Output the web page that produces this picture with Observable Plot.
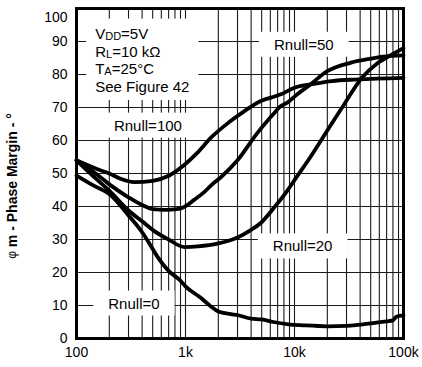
<!DOCTYPE html>
<html>
<head>
<meta charset="utf-8">
<script src="https://cdn.jsdelivr.net/npm/d3@7"></script>
<script src="https://cdn.jsdelivr.net/npm/@observablehq/plot@0.6"></script>
<style>
  html, body { margin: 0; padding: 0; background: #fff; }
  #chart { width: 422px; height: 367px; }
</style>
</head>
<body>
<div id="chart"></div>
<script>
// ---- Data (frequency in Hz, phase margin in degrees) ----
const rnull100 = [[100,54],[150,51.5],[200,50],[250,48.5],[340,47.4],[500,47.8],[710,49.4],[960,52.4],[1260,56],[1730,61],[2500,65.5],[3500,69],[4900,72],[6100,73],[7500,74],[10000,76],[16000,77.3],[22000,78],[38000,78.5],[100000,79]];
const rnull50 = [[100,54],[150,50],[200,46.7],[300,42.8],[410,40.3],[500,39.2],[650,39],[830,39.2],[960,39.8],[1200,42],[1500,44.5],[1730,46.5],[2100,48.8],[3000,54],[4500,62],[6400,68],[7400,70.3],[8600,71.5],[10600,74],[14000,77],[20000,81],[33000,83.6],[50000,84.8],[65000,85.4],[100000,85.8]];
const rnull20 = [[100,54],[150,48.5],[200,44.8],[300,38.8],[400,35.5],[510,32.7],[700,30],[980,27.7],[1300,27.9],[2000,28.8],[3000,30.6],[3900,32.7],[4900,35],[6400,39.4],[8600,44.8],[10000,48],[14000,55],[20000,63],[28600,71],[41000,78.8],[58000,83.5],[78000,86],[100000,88]];
const rnull0 = [[100,49.4],[150,46],[200,43.8],[300,37.3],[400,32.2],[510,26.7],[560,24.5],[700,20.5],[900,17.5],[1000,15.8],[1370,12.4],[1700,9.8],[2000,8.2],[2600,7.4],[3000,7.1],[4000,6],[5000,5.8],[6400,5],[8800,4.3],[12000,4],[20000,3.7],[30000,3.8],[38000,4.1],[50000,4.6],[70000,5.2],[80000,5.5],[86000,6.6],[100000,7]];

const seriesNames = ["Rnull=100", "Rnull=50", "Rnull=20", "Rnull=0"];
const seriesPoints = [rnull100, rnull50, rnull20, rnull0];

// label anchors (freq, phase margin)
const labelFreq = [457, 12300, 12000, 340];
const labelPm = [64.5, 89, 27.9, 10.6];

const conditionLines = [["V", "DD", "=5V"], ["R", "L", "=10 k\u03A9"], ["T", "A", "=25\u00B0C"], ["See Figure 42", "", ""]];
const conditionFreq = 150;
const conditionPm = 92.4;

const xTickValues = [100, 1000, 10000, 100000];
const xTickLabels = ["100", "1k", "10k", "100k"];
const yTickValues = [0, 10, 20, 30, 40, 50, 60, 70, 80, 90, 100];
const gridMultipliers = [1, 2, 3, 4, 5, 6, 7, 8, 9];
const gridDecades = [100, 1000, 10000];
const yAxisLabel = ["\u03C6", " m - Phase Margin - \u00B0"];

// ---- Build tables ----
const table = seriesNames.flatMap((name, i) => seriesPoints[i].map(([f, pm]) => ({series: name, f, pm})));
const gridFreqs = gridDecades.flatMap(d => gridMultipliers.map(m => m * d)).concat([100000]);

const FONT = "'Liberation Sans', Arial, Helvetica, sans-serif";

const plot = Plot.plot({
  width: 422,
  height: 367,
  marginLeft: 76,
  marginRight: 19,
  marginTop: 8,
  marginBottom: 29,
  style: {fontFamily: FONT, fontSize: "14px", color: "#000", background: "#fff"},
  x: {type: "log", domain: [100, 100000], ticks: xTickValues, tickFormat: d => xTickLabels[xTickValues.indexOf(d)], tickSize: 0, tickPadding: 9, label: null},
  y: {domain: [0, 100], ticks: yTickValues, tickSize: 0, tickPadding: 9, label: null},
  marks: [
    Plot.ruleX(gridFreqs, {stroke: "#1a1a1a", strokeWidth: 1.1, strokeOpacity: 1}),
    Plot.ruleY(yTickValues, {stroke: "#1a1a1a", strokeWidth: 1.1, strokeOpacity: 1}),
    Plot.line(table, {x: "f", y: "pm", z: "series", stroke: "#000", strokeWidth: 3.8, curve: "monotone-x"}),
    Plot.frame({stroke: "#000", strokeWidth: 3})
  ]
});

document.getElementById("chart").appendChild(plot);

const svg = d3.select(plot);
const sx = plot.scale("x"), sy = plot.scale("y");

// nudge the top y tick label down slightly, as in the reference
svg.selectAll("text").filter(function () {
  return this.textContent === "100" && this.closest("g[aria-label='y-axis tick label']");
}).attr("dy", "0.62em");

function boxed(g, padX, padY) {
  const b = g.node().getBBox();
  g.insert("rect", ":first-child")
    .attr("x", b.x - padX).attr("y", b.y - padY)
    .attr("width", b.width + 2 * padX).attr("height", b.height + 2 * padY)
    .attr("fill", "#fff");
}

// Curve labels
seriesNames.forEach((name, i) => {
  const g = svg.append("g");
  g.append("text")
    .attr("x", sx.apply(labelFreq[i]))
    .attr("y", sy.apply(labelPm[i]))
    .attr("text-anchor", "middle")
    .attr("dominant-baseline", "central")
    .attr("font-family", FONT)
    .attr("font-size", 15)
    .attr("fill", "#000")
    .text(name);
  boxed(g, 15, 4);
});

// Conditions block
{
  const g = svg.append("g");
  const x0 = sx.apply(conditionFreq);
  const y0 = sy.apply(conditionPm);
  conditionLines.forEach((parts, i) => {
    const t = g.append("text")
      .attr("x", x0).attr("y", y0 + i * 17.5)
      .attr("text-anchor", "start")
      .attr("dominant-baseline", "central")
      .attr("font-family", FONT).attr("font-size", 15).attr("fill", "#000");
    t.append("tspan").text(parts[0]);
    if (parts[1]) t.append("tspan").attr("font-size", 11).attr("baseline-shift", "-3").text(parts[1]);
    if (parts[2]) t.append("tspan").text(parts[2]);
  });
  boxed(g, 9, 6);
}

// Y axis title
{
  const cx = 12, cy = 186;
  const t = svg.append("text")
    .attr("transform", `translate(${cx},${cy}) rotate(-90)`)
    .attr("text-anchor", "middle")
    .attr("dominant-baseline", "central")
    .attr("font-family", FONT).attr("font-size", 14).attr("fill", "#000");
  t.append("tspan").attr("font-size", 12).text(yAxisLabel[0]);
  t.append("tspan").attr("font-weight", "bold").text(yAxisLabel[1]);
}
</script>
</body>
</html>
